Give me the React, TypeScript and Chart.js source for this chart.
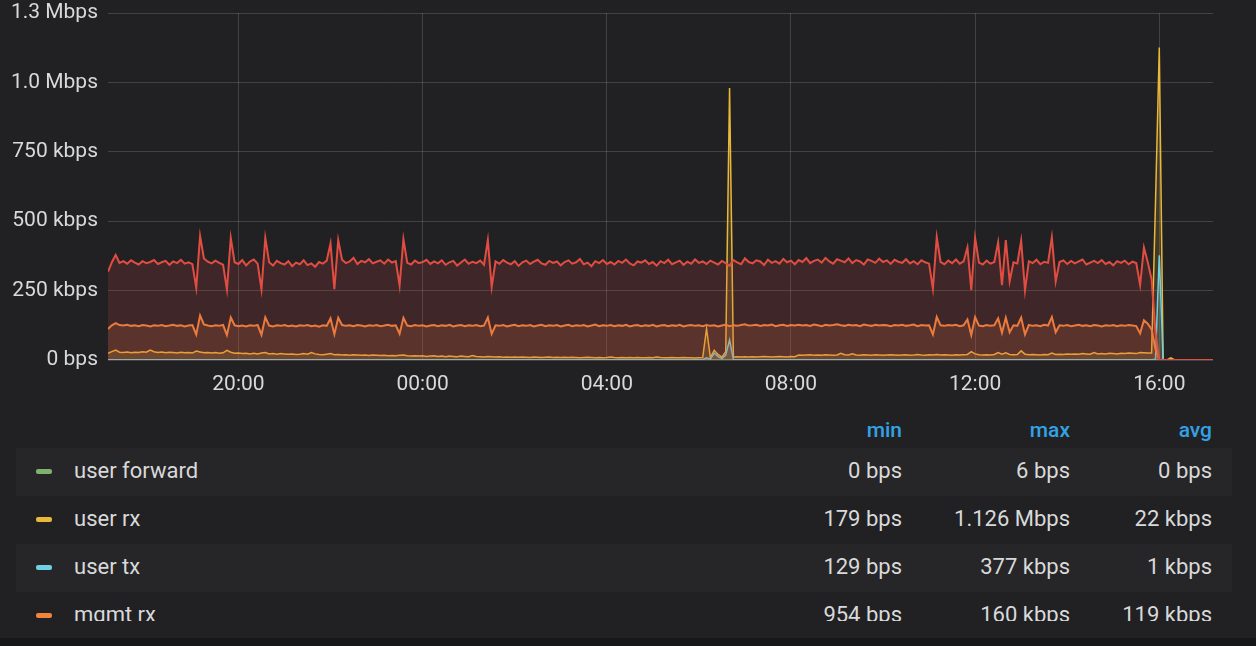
import React, { useEffect, useRef } from "react";
import { Chart, registerables } from "chart.js";

Chart.register(...registerables);

// time axis (hours since 00:00 of the first day), 5-minute samples
const START_HOUR = 17 + 10 / 60;
const STEP_HOURS = 5 / 60;
const SPAN_HOURS = 24;
const X_TICK_HOURS = [20, 24, 28, 32, 36, 40];
const Y_MAX_KBPS = 1250;
const Y_STEP_KBPS = 250;

// values in kbps
const MGMT_TX = [
  318, 352, 378, 350, 356, 347, 359, 351, 344, 356, 349, 353,
  360, 346, 352, 357, 343, 355, 349, 361, 347, 352, 345, 260,
  447, 366, 354, 348, 358, 350, 343, 254, 440, 352, 346, 360,
  341, 355, 362, 347, 254, 440, 352, 340, 357, 349, 344, 356,
  338, 351, 345, 359, 342, 348, 336, 353, 347, 358, 420, 255,
  432, 361, 349, 355, 368, 346, 357, 352, 363, 348, 354, 359,
  347, 362, 351, 356, 268, 435, 350, 344, 358, 349, 353, 361,
  346, 355, 348, 359, 343, 352, 357, 340, 351, 362, 347, 354,
  349, 358, 343, 432, 263, 355, 347, 360, 351, 345, 356, 339,
  352, 358, 346, 354, 361, 348, 343, 357, 350, 355, 341, 353,
  359, 347, 352, 364, 345, 351, 338, 356, 349, 360, 346, 353,
  344, 357, 350, 362, 348, 341, 355, 351, 359, 346, 353, 340,
  356, 349, 361, 345, 352, 358, 343, 354, 347, 362, 350, 355,
  346, 358, 351, 344, 357, 349, 339, 360, 352, 345, 366, 353,
  348, 359, 355, 342, 361, 350, 356, 347, 364, 352, 358, 345,
  360, 353, 367, 349, 357, 362, 351, 368, 355, 347, 363, 358,
  352, 366, 349, 360, 355, 344, 362, 357, 350, 365, 353, 359,
  346, 361, 354, 350, 363, 348, 356, 345, 359, 352, 347, 257,
  442, 353, 345, 358, 349, 362, 347, 355, 406, 252, 440, 351,
  344, 358, 347, 353, 424, 270, 432, 283, 352, 348, 430, 251,
  356, 349, 361, 345, 354, 350, 442, 283, 353, 359, 346, 357,
  348, 355, 362, 344, 351, 357, 349, 360, 346, 353, 341, 356,
  350, 358, 345, 354, 349, 270, 405, 352, 290, 100, 0, 0,
  0, 0, 0, 0, 0, 0, 0, 0, 0, 0, 0, 0,
  0,
];

const MGMT_RX = [
  112, 125, 133, 126, 124, 127, 123, 125, 122, 126, 124, 121,
  125, 123, 126, 122, 124, 127, 123, 125, 121, 124, 126, 92,
  160, 128, 124, 122, 125, 123, 126, 90, 153, 125, 122, 124,
  121, 125, 123, 126, 91, 154, 124, 121, 125, 123, 126, 122,
  124, 121, 125, 123, 126, 122, 124, 120, 125, 123, 150, 93,
  152, 126, 123, 125, 122, 126, 124, 121, 125, 123, 126, 122,
  124, 127, 123, 125, 95, 152, 124, 122, 126, 123, 125, 121,
  124, 126, 122, 125, 123, 127, 121, 124, 126, 122, 125, 123,
  126, 122, 124, 153, 94, 125, 123, 126, 121, 124, 127, 122,
  125, 123, 126, 121, 124, 127, 122, 125, 123, 126, 121, 124,
  127, 122, 125, 123, 126, 121, 124, 128, 122, 125, 123, 126,
  122, 125, 123, 127, 121, 124, 126, 122, 125, 123, 127, 121,
  124, 126, 122, 125, 123, 127, 121, 124, 126, 123, 125, 122,
  126, 123, 125, 121, 124, 127, 122, 125, 123, 126, 129, 124,
  125, 127, 123, 126, 124, 128, 122, 125, 127, 123, 126, 124,
  127, 124, 126, 123, 128, 125, 122, 127, 124, 126, 129, 125,
  123, 127, 124, 126, 122, 128, 125, 123, 127, 124, 126, 125,
  122, 126, 124, 127, 123, 125, 128, 122, 126, 124, 125, 92,
  155, 125, 123, 126, 124, 127, 122, 125, 146, 90, 154, 124,
  122, 126, 123, 125, 150, 98, 152, 100, 125, 123, 153, 92,
  126, 123, 125, 122, 127, 124, 155, 100, 125, 123, 126, 122,
  124, 127, 123, 125, 122, 126, 124, 121, 125, 123, 126, 122,
  125, 123, 126, 124, 122, 96, 143, 131, 110, 40, 0, 0,
  0, 0, 0, 0, 0, 0, 0, 0, 0, 0, 0, 0,
  0,
];

const USER_RX = [
  24, 30, 36, 28, 27, 29, 26, 28, 27, 30, 28, 36,
  30, 27, 29, 26, 28, 27, 25, 28, 26, 27, 25, 32,
  29, 26, 27, 25, 27, 24, 26, 35, 28, 24, 25, 23,
  24, 22, 24, 22, 25, 27, 22, 23, 21, 23, 22, 21,
  22, 20, 21, 23, 21, 27, 22, 20, 19, 21, 23, 19,
  20, 18, 19, 17, 19, 18, 17, 18, 16, 18, 17, 16,
  17, 15, 16, 15, 17, 18, 15, 14, 15, 14, 15, 13,
  14, 15, 13, 14, 12, 14, 13, 12, 14, 13, 12, 16,
  13, 12, 11, 13, 12, 11, 12, 10, 11, 10, 11, 10,
  11, 10, 9, 11, 10, 9, 10, 11, 9, 10, 9, 10,
  9, 10, 9, 8, 9, 10, 9, 8, 9, 8, 9, 11,
  9, 8, 9, 8, 9, 8, 9, 8, 8, 9, 8, 11,
  9, 8, 8, 9, 8, 8, 9, 8, 8, 7, 8, 9,
  113, 9, 35, 20, 10, 30, 980, 11, 12, 11, 12, 11,
  12, 11, 12, 13, 12, 11, 12, 13, 12, 11, 13, 12,
  18, 17, 18, 19, 17, 18, 17, 19, 18, 17, 18, 24,
  19, 18, 22, 18, 17, 19, 18, 17, 19, 18, 17, 18,
  19, 18, 17, 18, 19, 17, 18, 20, 18, 17, 19, 18,
  20, 18, 19, 18, 17, 19, 18, 19, 20, 30, 22, 19,
  18, 19, 18, 20, 27, 21, 26, 20, 19, 20, 33, 21,
  19, 20, 19, 18, 20, 19, 25, 20, 21, 20, 22, 21,
  22, 21, 23, 22, 21, 27, 22, 23, 22, 24, 23, 22,
  24, 23, 25, 24, 23, 27, 26, 25, 25, 560, 1126, 0,
  0, 8, 0, 0, 0, 0, 0, 0, 0, 0, 0, 0,
  0,
];

const USER_TX = [
  1.2, 0.9, 1.1, 1.0, 1.3, 0.8, 1.1, 1.0, 0.9, 1.2, 1.0, 1.1,
  0.9, 1.1, 1.0, 1.2, 0.8, 1.0, 1.1, 0.9, 1.2, 1.0, 1.1, 0.9,
  1.0, 1.2, 0.9, 1.1, 1.0, 0.8, 1.1, 1.2, 0.9, 1.0, 1.1, 1.0,
  0.9, 1.0, 1.2, 1.1, 0.9, 1.0, 1.1, 0.8, 1.0, 1.2, 0.9, 1.1,
  1.0, 0.9, 1.1, 1.0, 1.2, 0.9, 1.0, 1.1, 0.8, 1.0, 1.1, 0.9,
  1.1, 1.0, 0.9, 1.2, 1.0, 1.1, 0.9, 1.0, 1.1, 0.8, 1.0, 1.2,
  0.9, 1.1, 1.0, 0.9, 1.1, 1.2, 1.0, 0.9, 1.1, 1.0, 0.8, 1.0,
  1.1, 0.9, 1.0, 1.2, 0.9, 1.0, 1.1, 1.0, 0.9, 1.1, 1.0, 0.9,
  1.0, 1.1, 0.9, 1.2, 1.0, 0.9, 1.1, 1.0, 0.8, 1.0, 1.1, 0.9,
  1.1, 1.0, 0.9, 1.0, 1.2, 0.9, 1.0, 1.1, 0.9, 1.0, 0.8, 1.1,
  1.0, 0.9, 1.1, 1.0, 0.9, 1.2, 1.0, 0.9, 1.1, 1.0, 0.9, 1.0,
  1.1, 0.9, 1.0, 0.8, 1.1, 1.0, 0.9, 1.1, 1.0, 0.9, 1.2, 1.0,
  0.9, 1.0, 1.1, 0.9, 1.0, 1.1, 0.9, 1.0, 0.8, 1.1, 1.0, 1.2,
  8, 3, 25, 12, 5, 18, 72, 2, 1.0, 1.1, 0.9, 1.0,
  1.1, 0.9, 1.0, 1.2, 0.9, 1.0, 1.1, 0.9, 1.0, 0.8, 1.1, 1.0,
  0.9, 1.1, 1.0, 0.9, 1.2, 1.0, 0.9, 1.1, 1.0, 0.9, 1.0, 1.1,
  1.0, 0.9, 1.1, 1.0, 0.8, 1.0, 1.1, 0.9, 1.2, 1.0, 0.9, 1.1,
  0.9, 1.0, 1.1, 0.9, 1.0, 1.2, 0.9, 1.0, 1.1, 0.9, 1.0, 0.8,
  1.1, 1.0, 0.9, 1.1, 1.0, 0.9, 1.2, 1.0, 0.9, 1.1, 1.0, 0.9,
  1.0, 1.1, 0.9, 1.0, 1.2, 0.9, 1.0, 1.1, 0.9, 1.0, 1.1, 0.9,
  1.1, 0.9, 1.0, 1.1, 0.9, 1.0, 0.8, 1.1, 1.0, 0.9, 1.1, 1.0,
  0.9, 1.0, 1.1, 0.9, 1.2, 1.0, 0.9, 1.1, 1.0, 0.9, 1.0, 1.1,
  1.0, 0.9, 1.1, 1.0, 0.9, 1.1, 1.0, 0.9, 1.0, 3, 377, 0,
  0, 0, 0, 0, 0, 0, 0, 0, 0, 0, 0, 0,
  0,
];

const USER_FORWARD = [
  0, 0, 0, 0, 0, 0, 0, 0, 0, 0, 0, 0,
  0, 0, 0, 0, 0, 0, 0, 0, 0, 0, 0, 0,
  0, 0, 0, 0, 0, 0, 0, 0, 0, 0, 0, 0,
  0, 0, 0, 0, 0, 0, 0, 0, 0, 0, 0, 0,
  0, 0, 0, 0, 0, 0, 0, 0, 0, 0, 0, 0,
  0, 0, 0, 0, 0, 0, 0, 0, 0, 0, 0, 0,
  0, 0, 0, 0, 0, 0, 0, 0, 0, 0, 0, 0,
  0, 0, 0, 0, 0, 0, 0, 0, 0, 0, 0, 0,
  0, 0, 0, 0, 0, 0, 0, 0, 0, 0, 0, 0,
  0, 0, 0, 0, 0, 0, 0, 0, 0, 0, 0, 0,
  0, 0, 0, 0, 0, 0, 0, 0, 0, 0, 0, 0,
  0, 0, 0, 0, 0, 0, 0, 0, 0, 0, 0, 0,
  0, 0, 0, 0, 0, 0, 0, 0, 0, 0, 0, 0,
  0, 0, 0, 0, 0, 0, 0.006, 0, 0, 0, 0, 0,
  0, 0, 0, 0, 0, 0, 0, 0, 0, 0, 0, 0,
  0, 0, 0, 0, 0, 0, 0, 0, 0, 0, 0, 0,
  0, 0, 0, 0, 0, 0, 0, 0, 0, 0, 0, 0,
  0, 0, 0, 0, 0, 0, 0, 0, 0, 0, 0, 0,
  0, 0, 0, 0, 0, 0, 0, 0, 0, 0, 0, 0,
  0, 0, 0, 0, 0, 0, 0, 0, 0, 0, 0, 0,
  0, 0, 0, 0, 0, 0, 0, 0, 0, 0, 0, 0,
  0, 0, 0, 0, 0, 0, 0, 0, 0, 0, 0, 0,
  0, 0, 0, 0, 0, 0, 0, 0, 0, 0, 0.006, 0,
  0, 0, 0, 0, 0, 0, 0, 0, 0, 0, 0, 0,
  0,
];

const SERIES_NAMES = ["mgmt tx", "mgmt rx", "user tx", "user rx", "user forward"];
const SERIES_COLORS = ["#E24D42", "#EF843C", "#6ED0E0", "#EAB839", "#7EB26D"];
const SERIES_WIDTHS = [2, 2, 1.5, 1.5, 1.5];

const LEGEND_NAMES = ["user forward", "user rx", "user tx", "mgmt rx"];
const LEGEND_COLORS = ["#7EB26D", "#EAB839", "#6ED0E0", "#EF843C"];
const LEGEND_MIN = ["0 bps", "179 bps", "129 bps", "954 bps"];
const LEGEND_MAX = ["6 bps", "1.126 Mbps", "377 kbps", "160 kbps"];
const LEGEND_AVG = ["0 bps", "22 kbps", "1 kbps", "119 kbps"];
const LEGEND_HEADERS = ["min", "max", "avg"];

const BG = "#212124";
const TEXT = "#d8d9da";
const GRID = "rgba(255,255,255,0.15)";
const FONT = "Roboto, 'Helvetica Neue', Arial, sans-serif";

function hexToRgba(hex: string, a: number) {
  const n = parseInt(hex.slice(1), 16);
  return `rgba(${(n >> 16) & 255},${(n >> 8) & 255},${n & 255},${a})`;
}

function formatRate(v: number) {
  if (v === 0) return "0 bps";
  if (v >= 1000) return (v / 1000).toFixed(1) + " Mbps";
  return v + " kbps";
}

function formatHour(v: number) {
  const h = ((v % 24) + 24) % 24;
  return String(h).padStart(2, "0") + ":00";
}

export default function App() {
  const canvasRef = useRef<HTMLCanvasElement | null>(null);

  useEffect(() => {
    document.body.style.margin = "0";
    document.body.style.background = BG;
    const series = [MGMT_TX, MGMT_RX, USER_TX, USER_RX, USER_FORWARD];
    const datasets = series.map((arr, k) => ({
      label: SERIES_NAMES[k],
      data: arr.map((y, i) => ({ x: START_HOUR + i * STEP_HOURS, y })),
      borderColor: SERIES_COLORS[k],
      backgroundColor: hexToRgba(SERIES_COLORS[k], 0.16),
      borderWidth: SERIES_WIDTHS[k],
      fill: "origin",
      pointRadius: 0,
      tension: 0,
    }));

    const chart = new Chart(canvasRef.current as HTMLCanvasElement, {
      type: "line",
      data: { datasets },
      options: {
        animation: false,
        responsive: false,
        devicePixelRatio: 1,
        events: [],
        layout: { padding: { top: 13, right: 43, left: 0, bottom: 0 } },
        plugins: { legend: { display: false }, tooltip: { enabled: false } },
        scales: {
          x: {
            type: "linear",
            min: START_HOUR,
            max: START_HOUR + SPAN_HOURS,
            border: { display: false },
            grid: { color: GRID, lineWidth: 1, drawTicks: false },
            ticks: {
              color: TEXT,
              font: { family: FONT, size: 21 },
              padding: 12,
              autoSkip: false,
              maxRotation: 0,
              callback: (v: any) => formatHour(Number(v)),
            },
            afterBuildTicks: (s: any) => {
              s.ticks = X_TICK_HOURS.map((value) => ({ value }));
            },
            afterFit: (s: any) => {
              s.height = 40;
              s.paddingLeft = 0;
              s.paddingRight = 0;
            },
          },
          y: {
            min: 0,
            max: Y_MAX_KBPS,
            border: { display: false },
            grid: { color: GRID, lineWidth: 1, drawTicks: false },
            ticks: {
              stepSize: Y_STEP_KBPS,
              color: TEXT,
              font: { family: FONT, size: 21 },
              padding: 10,
              callback: (v: any) => formatRate(Number(v)),
            },
            afterFit: (s: any) => {
              s.width = 108;
              s.paddingTop = 0;
              s.paddingBottom = 0;
            },
          },
        },
      },
    } as any);
    return () => chart.destroy();
  }, []);

  const colRights = [1232 - 902, 1232 - 1070, 1232 - 1212];

  return (
    <div
      style={{
        position: "fixed",
        left: 0,
        top: 0,
        width: 1256,
        height: 646,
        background: BG,
        overflow: "hidden",
        fontFamily: FONT,
      }}
    >
      <canvas
        ref={canvasRef}
        width={1256}
        height={400}
        style={{ position: "absolute", left: 0, top: 0, width: 1256, height: 400, display: "block" }}
      />
      <div
        style={{
          position: "absolute",
          left: 0,
          top: 400,
          width: 1256,
          height: 221,
          overflow: "hidden",
        }}
      >
        <div style={{ position: "absolute", left: 16, top: 12, width: 1216, height: 36 }}>
          {LEGEND_HEADERS.map((h, c) => (
            <span
              key={h}
              style={{
                position: "absolute",
                right: colRights[c],
                top: 0,
                lineHeight: "36px",
                fontSize: 21,
                fontWeight: 500,
                color: "#33a2e5",
              }}
            >
              {h}
            </span>
          ))}
        </div>
        {LEGEND_NAMES.map((name, k) => (
          <div
            key={name}
            style={{
              position: "absolute",
              left: 16,
              top: 48 + k * 48,
              width: 1216,
              height: 48,
              background: k % 2 === 0 ? "#262628" : "transparent",
              color: TEXT,
              fontSize: 22,
            }}
          >
            <span
              style={{
                position: "absolute",
                left: 20,
                top: 21,
                width: 16,
                height: 5,
                borderRadius: 2,
                background: LEGEND_COLORS[k],
              }}
            />
            <span style={{ position: "absolute", left: 58, top: 0, lineHeight: "46px" }}>{name}</span>
            {[LEGEND_MIN[k], LEGEND_MAX[k], LEGEND_AVG[k]].map((val, c) => (
              <span
                key={c}
                style={{ position: "absolute", right: colRights[c], top: 0, lineHeight: "46px" }}
              >
                {val}
              </span>
            ))}
          </div>
        ))}
      </div>
      <div
        style={{ position: "absolute", left: 0, top: 638, width: 1256, height: 8, background: "#161719" }}
      />
    </div>
  );
}
